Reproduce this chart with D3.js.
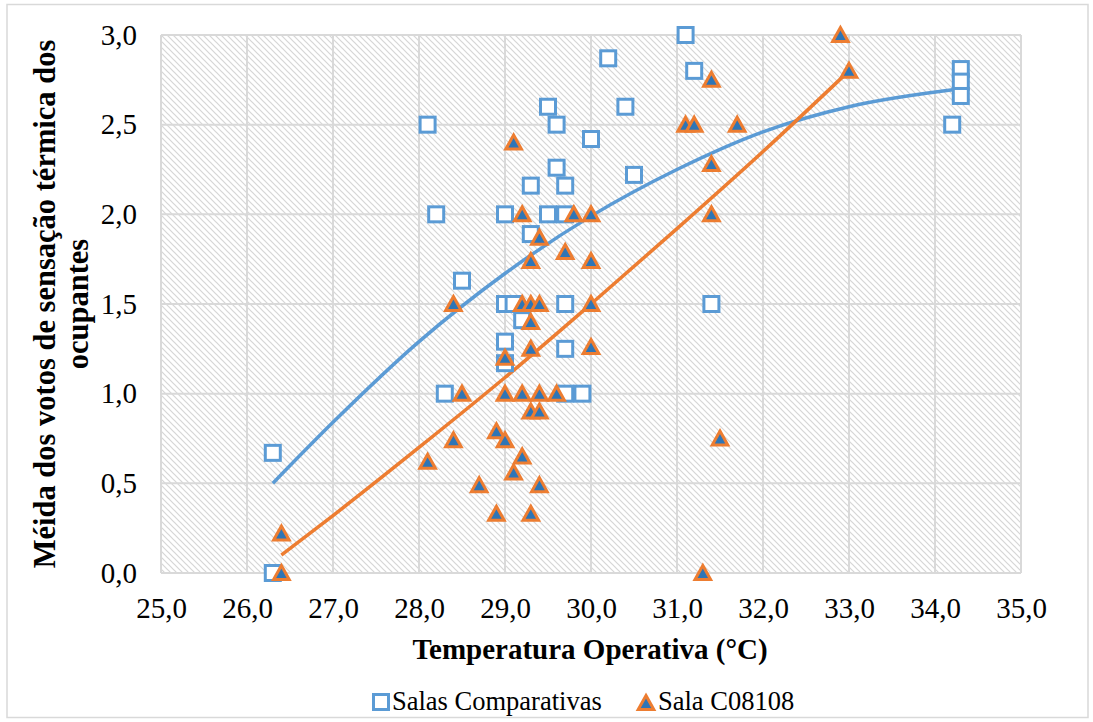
<!DOCTYPE html>
<html>
<head>
<meta charset="utf-8">
<script src="https://cdn.jsdelivr.net/npm/d3@7"></script>
<style>
  html, body { margin: 0; padding: 0; background: #fff; }
  svg { display: block; }
  svg text { font-family: "Liberation Serif", "Times New Roman", serif; fill: #000; }
</style>
</head>
<body>
<svg id="chart" width="1093" height="722"></svg>
<script>
// Temperature (°C) and mean thermal sensation vote — comparison rooms
const salasX = [26.3, 26.3, 28.1, 28.2, 28.3, 28.5, 29.0, 29.0, 29.0, 29.0, 29.1, 29.2,
  29.3, 29.3, 29.5, 29.5, 29.6, 29.6, 29.7, 29.7, 29.7, 29.7, 29.7, 29.9,
  30.0, 30.2, 30.4, 30.5, 31.1, 31.2, 31.4, 34.2, 34.3, 34.3, 34.3];
const salasY = [0.67, 0.00, 2.50, 2.00, 1.00, 1.63, 2.00, 1.50, 1.29, 1.17, 1.50, 1.41,
  2.16, 1.89, 2.60, 2.00, 2.50, 2.26, 2.16, 2.00, 1.50, 1.25, 1.00, 1.00,
  2.42, 2.87, 2.60, 2.22, 3.00, 2.80, 1.50, 2.50, 2.81, 2.74, 2.66];

// Room C08108
const c08X = [26.4, 26.4, 28.1, 28.4, 28.4, 28.5, 28.7, 28.9, 28.9, 29.0, 29.0, 29.0,
  29.1, 29.1, 29.2, 29.2, 29.2, 29.2, 29.3, 29.3, 29.3, 29.3, 29.3, 29.3,
  29.4, 29.4, 29.4, 29.4, 29.4, 29.6, 29.7, 29.8, 30.0, 30.0, 30.0, 30.0,
  31.1, 31.2, 31.3, 31.4, 31.4, 31.4, 31.5, 31.7, 32.9, 33.0];
const c08Y = [0.22, 0.00, 0.62, 0.74, 1.50, 1.00, 0.49, 0.79, 0.33, 0.74, 1.00, 1.20,
  2.40, 0.56, 0.65, 1.00, 1.50, 2.00, 1.74, 1.50, 1.40, 1.25, 0.90, 0.33,
  1.87, 1.50, 1.00, 0.90, 0.49, 1.00, 1.79, 2.00, 2.00, 1.74, 1.50, 1.26,
  2.50, 2.50, 0.00, 2.75, 2.28, 2.00, 0.75, 2.50, 3.00, 2.80];

// Trend curves
const salasTrendX = [26.3, 27, 28, 29, 30, 31, 32, 33, 34.3];
const salasTrendY = [0.50, 0.84, 1.29, 1.67, 1.99, 2.25, 2.46, 2.60, 2.70];
const c08TrendX = [26.4, 27, 28, 29, 30, 31, 32, 33];
const c08TrendY = [0.10, 0.32, 0.70, 1.09, 1.50, 1.92, 2.35, 2.80];

// Axis ticks
const xTicks = [25, 26, 27, 28, 29, 30, 31, 32, 33, 34, 35];
const yTicks = [0, 0.5, 1, 1.5, 2, 2.5, 3];

const seriesNames = ["Salas Comparativas", "Sala C08108"];

const BLUE = "#5B9BD5", ORANGE = "#ED7D31", DARKBLUE = "#2E75B6", GRID = "#d9d9d9";
const SERIF = '"Liberation Serif", "Times New Roman", serif';
const fmt = v => v.toFixed(1).replace(".", ",");

const svg = d3.select("#chart");
const plot = { left: 161, right: 1021, top: 35, bottom: 573 };

const x = d3.scaleLinear().domain([25, 35]).range([plot.left, plot.right]);
const y = d3.scaleLinear().domain([0, 3]).range([plot.bottom, plot.top]);

// chart frame
svg.append("rect").attr("x", 7).attr("y", 4.5).attr("width", 1081).attr("height", 713)
  .attr("fill", "#fff").attr("stroke", "#d9d9d9").attr("stroke-width", 1.5);

// diagonal hatch for the plot background
const defs = svg.append("defs");
const pat = defs.append("pattern").attr("id", "hatch").attr("patternUnits", "userSpaceOnUse")
  .attr("width", 6).attr("height", 6);
pat.append("rect").attr("width", 6).attr("height", 6).attr("fill", "#fff");
pat.append("path").attr("d", "M0,0 L6,6 M-3,3 L3,9 M3,-3 L9,3")
  .attr("stroke", "#d6d6d6").attr("stroke-width", 1.2);

svg.append("rect").attr("x", plot.left).attr("y", plot.top)
  .attr("width", plot.right - plot.left).attr("height", plot.bottom - plot.top)
  .attr("fill", "url(#hatch)");

// gridlines
const grid = svg.append("g");
grid.selectAll(".gx").data(xTicks).join("line")
  .attr("x1", d => x(d)).attr("x2", d => x(d)).attr("y1", plot.top).attr("y2", plot.bottom)
  .attr("stroke", GRID).attr("stroke-width", 2);
grid.selectAll(".gy").data(yTicks).join("line")
  .attr("x1", plot.left).attr("x2", plot.right).attr("y1", d => y(d)).attr("y2", d => y(d))
  .attr("stroke", GRID).attr("stroke-width", 2);

// axes (labels only)
const xAxis = d3.axisBottom(x).tickValues(xTicks).tickFormat(fmt).tickSize(0).tickPadding(24);
const gx = svg.append("g").attr("transform", `translate(0,${plot.bottom})`).call(xAxis)
  .attr("font-family", null).attr("font-size", null);
gx.select(".domain").remove();
gx.selectAll("text").style("font-family", SERIF).style("font-size", "29px").attr("fill", "#000");

const yAxis = d3.axisLeft(y).tickValues(yTicks).tickFormat(fmt).tickSize(0).tickPadding(24);
const gy = svg.append("g").attr("transform", `translate(${plot.left},0)`).call(yAxis)
  .attr("font-family", null).attr("font-size", null);
gy.select(".domain").remove();
gy.selectAll("text").style("font-family", SERIF).style("font-size", "29px").attr("fill", "#000");

// axis titles
svg.append("text").attr("x", 590).attr("y", 659).attr("text-anchor", "middle")
  .style("font-size", "29px").style("font-weight", "bold").text("Temperatura Operativa (°C)");

const yt = svg.append("text").attr("transform", `translate(0,${(plot.top + plot.bottom) / 2}) rotate(-90)`)
  .attr("text-anchor", "middle").style("font-size", "30.5px").style("font-weight", "bold");
yt.append("tspan").attr("x", 0).attr("y", 55).text("Méida dos votos de sensação térmica dos");
yt.append("tspan").attr("x", 0).attr("y", 88).text("ocupantes");

// trend lines
const line = d3.line().x(d => x(d[0])).y(d => y(d[1])).curve(d3.curveMonotoneX);
svg.append("path").datum(d3.zip(salasTrendX, salasTrendY)).attr("d", line)
  .attr("fill", "none").attr("stroke", BLUE).attr("stroke-width", 3.5);
svg.append("path").datum(d3.zip(c08TrendX, c08TrendY)).attr("d", line)
  .attr("fill", "none").attr("stroke", ORANGE).attr("stroke-width", 3.5);

// markers
const sq = 15;
const triPath = "M0,-7.5 L7.8,6.5 L-7.8,6.5 Z";

svg.append("g").selectAll("rect").data(d3.zip(salasX, salasY)).join("rect")
  .attr("x", d => x(d[0]) - sq / 2).attr("y", d => y(d[1]) - sq / 2)
  .attr("width", sq).attr("height", sq)
  .attr("fill", "#fff").attr("stroke", BLUE).attr("stroke-width", 3);

svg.append("g").selectAll("path").data(d3.zip(c08X, c08Y)).join("path")
  .attr("transform", d => `translate(${x(d[0])},${y(d[1])})`)
  .attr("d", triPath).attr("fill", DARKBLUE).attr("stroke", ORANGE)
  .attr("stroke-width", 3).attr("stroke-linejoin", "miter");

// legend
const lg = svg.append("g");
lg.append("rect").attr("x", 381 - sq / 2).attr("y", 702 - sq / 2).attr("width", sq).attr("height", sq)
  .attr("fill", "#fff").attr("stroke", BLUE).attr("stroke-width", 3);
lg.append("text").attr("x", 392).attr("y", 710).style("font-size", "26.5px").text(seriesNames[0]);
lg.append("path").attr("transform", "translate(646,703)").attr("d", triPath)
  .attr("fill", DARKBLUE).attr("stroke", ORANGE).attr("stroke-width", 3);
lg.append("text").attr("x", 658).attr("y", 710).style("font-size", "26.5px").text(seriesNames[1]);
</script>
</body>
</html>
